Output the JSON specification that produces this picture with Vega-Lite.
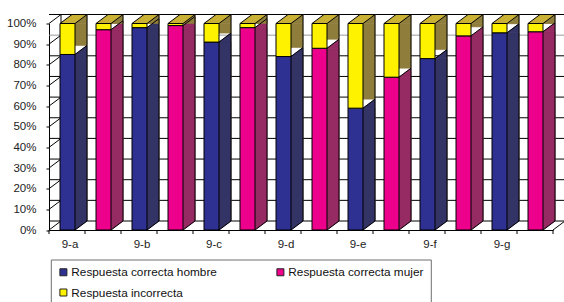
{
  "$schema": "https://vega.github.io/schema/vega-lite/v6.json",
  "width": 504,
  "height": 206.5,
  "autosize": {"type": "none"},
  "padding": {"left": 49, "top": 23.5, "right": 11, "bottom": 72},
  "background": "white",
  "config": {
    "view": {"stroke": null},
    "font": "Liberation Sans",
    "axis": {"labelFont": "Liberation Sans", "labelFontSize": 11.5, "labelColor": "#222222", "domainColor": "#000000", "tickColor": "#000000", "grid": false}
  },
  "data": {
    "values": [
      {"barra": "9-a hombre", "respuesta": "Respuesta correcta hombre", "valor": 85},
      {"barra": "9-a hombre", "respuesta": "Respuesta incorrecta", "valor": 15},
      {"barra": "9-a mujer", "respuesta": "Respuesta correcta mujer", "valor": 97},
      {"barra": "9-a mujer", "respuesta": "Respuesta incorrecta", "valor": 3},
      {"barra": "9-b hombre", "respuesta": "Respuesta correcta hombre", "valor": 98},
      {"barra": "9-b hombre", "respuesta": "Respuesta incorrecta", "valor": 2},
      {"barra": "9-b mujer", "respuesta": "Respuesta correcta mujer", "valor": 99},
      {"barra": "9-b mujer", "respuesta": "Respuesta incorrecta", "valor": 1},
      {"barra": "9-c hombre", "respuesta": "Respuesta correcta hombre", "valor": 91},
      {"barra": "9-c hombre", "respuesta": "Respuesta incorrecta", "valor": 9},
      {"barra": "9-c mujer", "respuesta": "Respuesta correcta mujer", "valor": 98},
      {"barra": "9-c mujer", "respuesta": "Respuesta incorrecta", "valor": 2},
      {"barra": "9-d hombre", "respuesta": "Respuesta correcta hombre", "valor": 84},
      {"barra": "9-d hombre", "respuesta": "Respuesta incorrecta", "valor": 16},
      {"barra": "9-d mujer", "respuesta": "Respuesta correcta mujer", "valor": 88},
      {"barra": "9-d mujer", "respuesta": "Respuesta incorrecta", "valor": 12},
      {"barra": "9-e hombre", "respuesta": "Respuesta correcta hombre", "valor": 59},
      {"barra": "9-e hombre", "respuesta": "Respuesta incorrecta", "valor": 41},
      {"barra": "9-e mujer", "respuesta": "Respuesta correcta mujer", "valor": 74},
      {"barra": "9-e mujer", "respuesta": "Respuesta incorrecta", "valor": 26},
      {"barra": "9-f hombre", "respuesta": "Respuesta correcta hombre", "valor": 83},
      {"barra": "9-f hombre", "respuesta": "Respuesta incorrecta", "valor": 17},
      {"barra": "9-f mujer", "respuesta": "Respuesta correcta mujer", "valor": 94},
      {"barra": "9-f mujer", "respuesta": "Respuesta incorrecta", "valor": 6},
      {"barra": "9-g hombre", "respuesta": "Respuesta correcta hombre", "valor": 95.5},
      {"barra": "9-g hombre", "respuesta": "Respuesta incorrecta", "valor": 4.5},
      {"barra": "9-g mujer", "respuesta": "Respuesta correcta mujer", "valor": 96},
      {"barra": "9-g mujer", "respuesta": "Respuesta incorrecta", "valor": 4}
    ]
  },
  "transform": [
    {"stack": "valor", "groupby": ["barra"], "sort": [{"field": "respuesta", "order": "ascending"}], "as": ["v0", "v1"]}
  ],
  "encoding": {
    "x": {
      "field": "barra",
      "type": "nominal",
      "scale": {
        "type": "band",
        "paddingInner": 0,
        "paddingOuter": 0,
        "domain": ["9-a hombre", "9-a mujer", "9-b hombre", "9-b mujer", "9-c hombre", "9-c mujer", "9-d hombre", "9-d mujer", "9-e hombre", "9-e mujer", "9-f hombre", "9-f mujer", "9-g hombre", "9-g mujer"]
      },
      "axis": {
        "title": null,
        "ticks": false,
        "labelPadding": 8,
        "labelAngle": 0,
        "labelOffset": 3,
        "labelExpr": "indexof(datum.value, 'hombre') > 0 ? split(datum.value, ' ')[0] : ''"
      }
    },
    "y": {
      "field": "v1",
      "type": "quantitative",
      "scale": {"domain": [0, 100], "nice": false, "zero": true},
      "axis": {
        "title": null,
        "values": [0, 10, 20, 30, 40, 50, 60, 70, 80, 90, 100],
        "tickSize": 3,
        "labelPadding": 10,
        "labelExpr": "datum.value + '%'"
      }
    }
  },
  "layer": [
    {
      "data": {"values": [{"v": 0}, {"v": 10}, {"v": 20}, {"v": 30}, {"v": 40}, {"v": 50}, {"v": 60}, {"v": 70}, {"v": 80}, {"v": 100}]},
      "mark": {"type": "rule", "stroke": "#000000", "strokeWidth": 1, "xOffset": 12, "x2Offset": 12, "yOffset": -9},
      "encoding": {
        "x": null,
        "y": {"field": "v", "type": "quantitative"}
      }
    },
    {
      "data": {"values": [{"v": 90}]},
      "mark": {"type": "rule", "stroke": "#9a9a9a", "strokeWidth": 1, "xOffset": 12, "x2Offset": 12, "yOffset": -9},
      "encoding": {
        "x": null,
        "y": {"field": "v", "type": "quantitative"}
      }
    },
    {
      "data": {"values": [{"v": 0}, {"v": 10}, {"v": 20}, {"v": 30}, {"v": 40}, {"v": 50}, {"v": 60}, {"v": 70}, {"v": 80}, {"v": 90}, {"v": 100}]},
      "mark": {"type": "point", "shape": "M-18,0L-6,-9", "size": 4, "filled": false, "stroke": "#000000", "strokeWidth": 1, "opacity": 1},
      "encoding": {
        "x": {"datum": "9-a hombre", "type": "nominal"},
        "y": {"field": "v", "type": "quantitative"}
      }
    },
    {
      "transform": [{"filter": "datum.barra == '9-a hombre'"}],
      "mark": {"type": "rule", "stroke": "#000000", "strokeWidth": 1, "xOffset": -6, "yOffset": -9, "y2Offset": -9},
      "encoding": {
        "y": {"field": "v1", "type": "quantitative"},
        "y2": {"field": "v0"}
      }
    },
    {
      "data": {"values": [{"v": 0}]},
      "mark": {"type": "point", "shape": "M18,0L30,-9", "size": 4, "filled": false, "stroke": "#000000", "strokeWidth": 1, "opacity": 1},
      "encoding": {
        "x": {"datum": "9-g mujer", "type": "nominal"},
        "y": {"field": "v", "type": "quantitative"}
      }
    },
    {
      "transform": [{"filter": "datum.respuesta != 'Respuesta incorrecta'"}],
      "mark": {"type": "rule", "stroke": "#000000", "strokeWidth": 1, "y2Offset": 4},
      "encoding": {
        "x": {"field": "barra", "type": "nominal", "bandPosition": 0},
        "y": {"field": "v0", "type": "quantitative"},
        "y2": {"field": "v0"}
      }
    },
    {
      "transform": [{"filter": "datum.respuesta != 'Respuesta incorrecta' && datum.barra == '9-g mujer'"}],
      "mark": {"type": "rule", "stroke": "#000000", "strokeWidth": 1, "y2Offset": 4},
      "encoding": {
        "x": {"field": "barra", "type": "nominal", "bandPosition": 1},
        "y": {"field": "v0", "type": "quantitative"},
        "y2": {"field": "v0"}
      }
    },
    {
      "mark": {"type": "bar", "width": 12, "xOffset": 14, "y2Offset": -9, "fill": "#8F7D3C", "stroke": "#8F7D3C", "strokeWidth": 0.6},
      "encoding": {
        "y": {"field": "v1", "type": "quantitative"},
        "y2": {"field": "v0"}
      }
    },
    {
      "transform": [{"filter": "datum.respuesta != 'Respuesta incorrecta'"}],
      "mark": {"type": "bar", "width": 12, "xOffset": 14, "y2Offset": -9, "strokeWidth": 0.6},
      "encoding": {
        "y": {"field": "v1", "type": "quantitative"},
        "y2": {"field": "v0"},
        "fill": {"condition": {"test": "datum.respuesta == 'Respuesta correcta hombre'", "value": "#333366"}, "value": "#962B63"},
        "stroke": {"condition": {"test": "datum.respuesta == 'Respuesta correcta hombre'", "value": "#333366"}, "value": "#962B63"}
      }
    },
    {
      "mark": {"type": "point", "shape": "M8,0L20,-9L20,0Z", "size": 4, "filled": true, "opacity": 1, "strokeWidth": 0.6},
      "encoding": {
        "y": {"field": "v1", "type": "quantitative"},
        "fill": {"condition": [{"test": "datum.respuesta == 'Respuesta correcta hombre'", "value": "#333366"}, {"test": "datum.respuesta == 'Respuesta correcta mujer'", "value": "#962B63"}], "value": "#8F7D3C"},
        "stroke": {"condition": [{"test": "datum.respuesta == 'Respuesta correcta hombre'", "value": "#333366"}, {"test": "datum.respuesta == 'Respuesta correcta mujer'", "value": "#962B63"}], "value": "#8F7D3C"}
      }
    },
    {
      "transform": [{"filter": "datum.respuesta != 'Respuesta incorrecta'"}],
      "mark": {"type": "point", "shape": "M8,-9L8,0L20,-9Z", "size": 4, "filled": true, "opacity": 1, "strokeWidth": 0.6},
      "encoding": {
        "y": {"field": "v0", "type": "quantitative"},
        "fill": {"condition": {"test": "datum.respuesta == 'Respuesta correcta hombre'", "value": "#333366"}, "value": "#962B63"},
        "stroke": {"condition": {"test": "datum.respuesta == 'Respuesta correcta hombre'", "value": "#333366"}, "value": "#962B63"}
      }
    },
    {
      "mark": {"type": "rule", "stroke": "#000000", "strokeWidth": 1, "xOffset": 20, "yOffset": -9, "y2Offset": -9},
      "encoding": {
        "y": {"field": "v1", "type": "quantitative"},
        "y2": {"field": "v0"}
      }
    },
    {
      "transform": [{"filter": "datum.respuesta != 'Respuesta incorrecta'"}],
      "mark": {"type": "point", "shape": "M8,0L20,-9", "size": 4, "filled": false, "stroke": "#000000", "strokeWidth": 1, "opacity": 1},
      "encoding": {
        "y": {"field": "v1", "type": "quantitative"}
      }
    },
    {
      "transform": [{"filter": "datum.respuesta != 'Respuesta incorrecta'"}],
      "mark": {"type": "point", "shape": "M8,0L20,-9", "size": 4, "filled": false, "stroke": "#000000", "strokeWidth": 1, "opacity": 1},
      "encoding": {
        "y": {"field": "v0", "type": "quantitative"}
      }
    },
    {
      "transform": [{"filter": "datum.respuesta == 'Respuesta incorrecta'"}],
      "mark": {"type": "point", "shape": "M-7,0L8,0L20,-9L5,-9Z", "size": 4, "filled": true, "fill": "#C9B135", "stroke": "#000000", "strokeWidth": 1, "opacity": 1},
      "encoding": {
        "y": {"field": "v1", "type": "quantitative"}
      }
    },
    {
      "mark": {"type": "bar", "width": 15, "xOffset": 0.5, "stroke": "#000000", "strokeWidth": 1},
      "encoding": {
        "y": {"field": "v1", "type": "quantitative"},
        "y2": {"field": "v0"},
        "color": {
          "field": "respuesta",
          "type": "nominal",
          "scale": {"domain": ["Respuesta correcta hombre", "Respuesta correcta mujer", "Respuesta incorrecta"], "range": ["#2E3192", "#EC008C", "#FFF200"]},
          "legend": {
            "orient": "none",
            "legendX": 1.8,
            "legendY": 236,
            "direction": "horizontal",
            "columns": 2,
            "title": null,
            "padding": 6.7,
            "strokeColor": "#6e6e6e",
            "fillColor": "#ffffff",
            "symbolType": "square",
            "symbolSize": 49,
            "symbolStrokeColor": "#222222",
            "symbolStrokeWidth": 1,
            "symbolOpacity": 1,
            "labelFont": "Liberation Sans",
            "labelFontSize": 11.8,
            "labelColor": "#111111",
            "labelOffset": 2,
            "labelLimit": 400,
            "labelExpr": "datum.label == 'Respuesta correcta mujer' ? datum.label + '\u00a0\u00a0\u00a0\u00a0\u00a0\u00a0\u00a0\u00a0\u00a0\u00a0\u00a0\u00a0\u00a0\u00a0\u00a0\u00a0\u00a0\u00a0\u00a0\u00a0\u00a0\u00a0\u00a0\u00a0' : datum.label",
            "columnPadding": 57,
            "rowPadding": 7.4
          }
        }
      }
    }
  ]
}
